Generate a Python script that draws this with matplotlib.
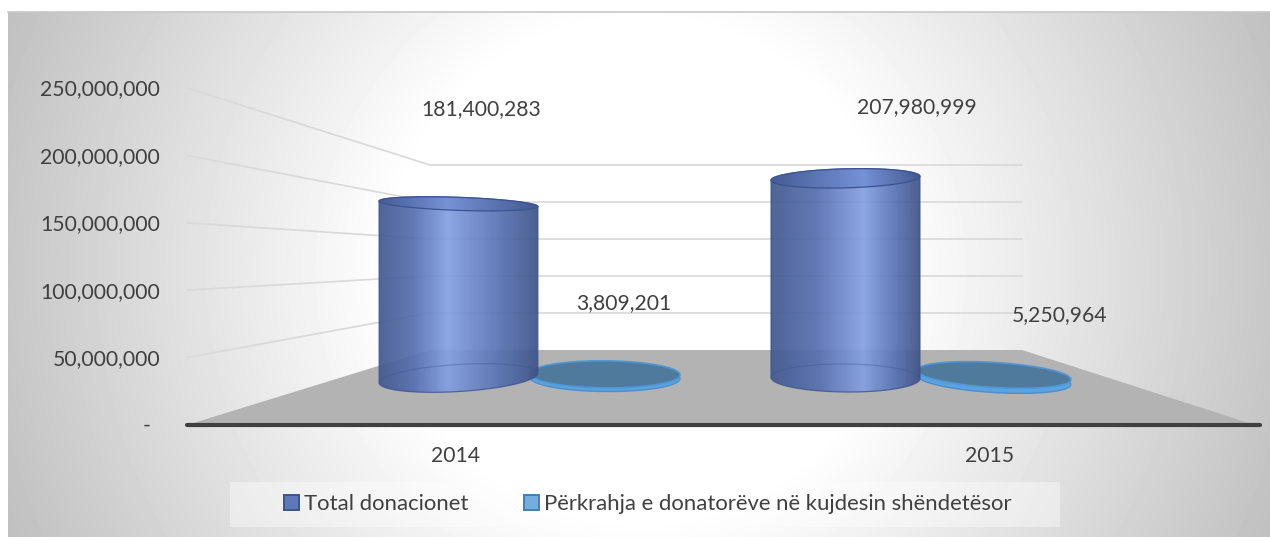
import numpy as np
import matplotlib.pyplot as plt
from matplotlib.colors import LinearSegmentedColormap
from matplotlib.patches import Patch, Polygon, Rectangle

# data
anios = ["2014", "2015"]
total_donacionet = [181400283, 207980999]
perkrahja = [3809201, 5250964]
etiketa_total = ["181,400,283", "207,980,999"]
etiketa_perkrahja = ["3,809,201", "5,250,964"]
vlerat_y = [0, 50000000, 100000000, 150000000, 200000000, 250000000]
etiketa_y = ["-", "50,000,000", "100,000,000", "150,000,000", "200,000,000", "250,000,000"]
seri = ["Total donacionet", "Përkrahja e donatorëve në kujdesin shëndetësor"]

plt.rcParams["font.family"] = ["Lato", "DejaVu Sans"]
ngjyra_teksti = "#404040"
FS = 15.2

fig = plt.figure(figsize=(12.7, 5.37), dpi=100)
ax = fig.add_axes([0, 0, 1, 1])


# 3d walls of the excel chart, value -> pixel row
def y_para(v):
    return 425 - 1.348 * v / 1e6


def y_mbrapa(v):
    return 350 - 0.74 * v / 1e6


def y_cilinder(v):
    return 0.96 * v / 1e6


# background
xx, yy = np.meshgrid(np.arange(8, 1270), np.arange(12, 537))
d = np.hypot(xx - 640, yy - 270)
sfond = np.clip(255 - np.maximum(0, d - 250) * 0.146, 0, 255) / 255
ax.imshow(sfond, cmap="gray", vmin=0, vmax=1, extent=(8, 1270, 537, 12), aspect="auto", zorder=0)
ax.plot([8, 1270], [12, 12], color="#c8c8c8", lw=1.2, zorder=1)

# floor
ax.add_patch(Polygon([(187, y_para(0)), (430, y_mbrapa(0)), (1022, y_mbrapa(0)), (1255, y_para(0))],
                     facecolor="#b3b3b3", edgecolor="none", zorder=1))

# grid lines
for v in vlerat_y[1:]:
    ax.plot([187, 430, 1022], [y_para(v), y_mbrapa(v), y_mbrapa(v)], color="#d9d9d9", lw=1.2, zorder=2)
ax.plot([187, 1260], [y_para(0), y_para(0)], color="#404040", lw=3, solid_capstyle="round", zorder=2)

# axis labels
for v, t in zip(vlerat_y, etiketa_y):
    if v == 0:
        ax.text(147, y_para(v) + 1, t, ha="center", va="center", fontsize=FS, color=ngjyra_teksti)
    else:
        ax.text(160, y_para(v) + 1.5, t, ha="right", va="center", fontsize=FS, color=ngjyra_teksti)
for x, t in zip([455, 990], anios):
    ax.text(x, 456, t, ha="center", va="center", fontsize=FS, color=ngjyra_teksti)


def elips(cx, cy, rx, ry, kend, t):
    k = np.radians(kend)
    ex = rx * np.cos(t)
    ey = ry * np.sin(t)
    return cx + ex * np.cos(k) - ey * np.sin(k), cy + ex * np.sin(k) + ey * np.cos(k)


def cilinder(cx, y0, rx, ry0, ry1, k0, k1, lartesi, kulm):
    y1 = y0 - lartesi
    cm_trup = LinearSegmentedColormap.from_list("trup", [(0, "#43598f"), (kulm * 0.5, "#566fb0"), (kulm, "#84a0e2"),
                                                          (kulm + (1 - kulm) * 0.6, "#5670b0"), (1, "#3f5387")])
    cm_kapak = LinearSegmentedColormap.from_list("kapak", [(0, "#465c94"), (kulm, "#7390d6"), (1, "#435890")])
    # silhouette: back half of the top ellipse, front half of the bottom one
    xt, yt = elips(cx, y1, rx, ry1, k1, np.linspace(np.pi, 2 * np.pi, 60))
    xb, yb = elips(cx, y0, rx, ry0, k0, np.linspace(0, np.pi, 60))
    trup = Polygon(np.column_stack([np.r_[xt, xb], np.r_[yt, yb]]), facecolor="none", edgecolor="#3c5391",
                   lw=0.9, alpha=0.8, zorder=5)
    ax.add_patch(trup)
    grad = np.linspace(0, 1, 256).reshape(1, -1)
    im = ax.imshow(grad, cmap=cm_trup, extent=(cx - rx, cx + rx, y0 + ry0 + 3, y1 - ry1 - 3),
                   aspect="auto", alpha=0.93, zorder=4)
    im.set_clip_path(trup)
    xk, yk = elips(cx, y1, rx, ry1, k1, np.linspace(0, 2 * np.pi, 120))
    kapak = Polygon(np.column_stack([xk, yk]), facecolor="none", edgecolor="#3c5391", lw=0.9, zorder=6)
    ax.add_patch(kapak)
    im2 = ax.imshow(grad, cmap=cm_kapak, extent=(cx - rx, cx + rx, y1 + ry1 + 3, y1 - ry1 - 3),
                    aspect="auto", alpha=0.9, zorder=5.5)
    im2.set_clip_path(kapak)
    xf, yf = elips(cx, y0, rx, ry0, k0, np.linspace(np.pi, 2 * np.pi, 60))
    ax.plot(xf, yf, color="#3c5391", lw=0.8, alpha=0.4, zorder=6)


def disk(cx, y0, rx, ry, kend, lartesi):
    xb, yb = elips(cx, y0, rx, ry, kend, np.linspace(0, 2 * np.pi, 120))
    ax.add_patch(Polygon(np.column_stack([xb, yb]), facecolor="#5ba3e0", edgecolor="#4a90cf", lw=1, zorder=3))
    xt, yt = elips(cx, y0 - lartesi, rx, ry, kend, np.linspace(0, 2 * np.pi, 120))
    ax.add_patch(Polygon(np.column_stack([xt, yt]), facecolor="#4f7a9c", edgecolor="#4f97d6", lw=1.2, zorder=3.1))


# bars
cilinder(458.5, 378, 79.5, 13.5, 6.5, -3.5, 2, y_cilinder(total_donacionet[0]), 0.43)
cilinder(845.5, 378, 74.5, 14, 9.5, 0.5, -1.5, y_cilinder(total_donacionet[1]), 0.62)
disk(605, 378, 75, 13.5, 0.5, y_cilinder(perkrahja[0]))
disk(994, 380, 77, 12.5, 3.5, y_cilinder(perkrahja[1]))

# data labels
for x, y, t in zip([481, 917], [109, 107], etiketa_total):
    ax.text(x, y, t, ha="center", va="center", fontsize=FS, color=ngjyra_teksti, zorder=8)
for x, y, t in zip([624, 1060], [303, 315], etiketa_perkrahja):
    ax.text(x, y, t, ha="center", va="center", fontsize=FS, color=ngjyra_teksti, zorder=8)

# legend
ax.add_patch(Rectangle((230, 482), 830, 45, facecolor="white", alpha=0.4, edgecolor="none", zorder=1))
dore = [Patch(facecolor="#5e78b8", edgecolor="#3c5391", lw=1.4),
        Patch(facecolor="#74aede", edgecolor="#3f80bd", lw=1.4)]
ax.legend(dore, seri, loc="center", bbox_to_anchor=(648, 504), bbox_transform=ax.transData, ncol=2,
          frameon=False, fontsize=15.9, labelcolor=ngjyra_teksti, handlelength=0.66, handleheight=0.66,
          handletextpad=0.25, columnspacing=2.5)

ax.set_xlim(0, 1270)
ax.set_ylim(537, 0)
ax.axis("off")
fig.savefig("out.png", dpi=100)
